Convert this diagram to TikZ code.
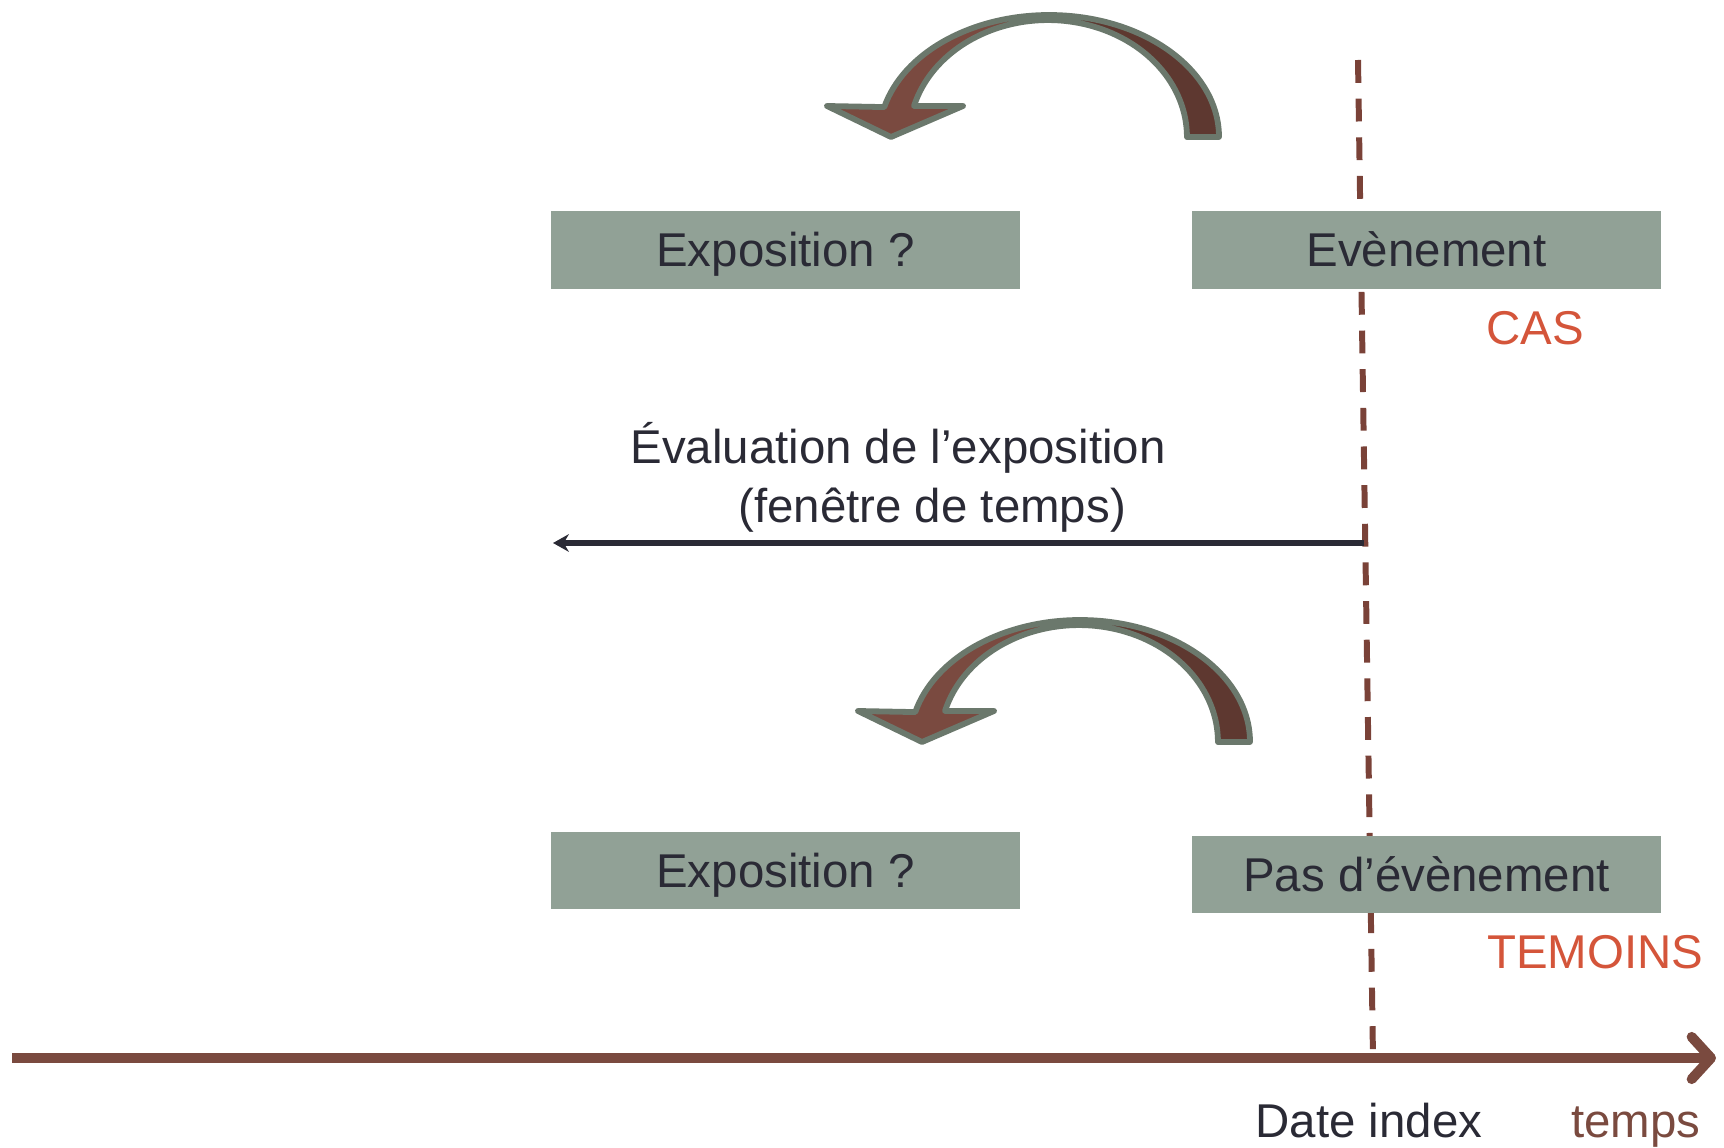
\documentclass[tikz,border=0pt]{standalone}
\usepackage{fontspec}
\setmainfont{Liberation Sans}
\usetikzlibrary{arrows.meta}
\definecolor{boxgreen}{HTML}{91A196}
\definecolor{textdark}{HTML}{2A2A35}
\definecolor{brownaxis}{HTML}{7A4A3F}
\definecolor{dashbrown}{HTML}{7A4238}
\definecolor{casred}{HTML}{D4553A}
\definecolor{bendlight}{HTML}{7A4A40}
\definecolor{benddark}{HTML}{5E3830}
\definecolor{bendedge}{HTML}{6B786C}
% outline of the curved arrow (top copy)
\newcommand\bendpath{(827,106) -- (891,137) -- (963,106) -- (914,106)
  arc[start angle=164.6,end angle=0,x radius=2.78cm,y radius=2.34cm]
  -- (1219,137)
  arc[start angle=0,end angle=165.8,x radius=3.4cm,y radius=2.44cm] -- cycle}
\begin{document}
\begin{tikzpicture}[x=0.02cm,y=-0.02cm,
  every node/.style={font=\fontsize{27}{32}\selectfont},
  greybox/.style={fill=boxgreen,text=textdark,minimum width=9.38cm,minimum height=1.56cm,
    inner sep=0pt,text height=19.3pt,text depth=0pt},
  grouplabel/.style={text=casred,anchor=base west,inner sep=0pt},
  evaltext/.style={text=textdark,anchor=base west,inner sep=0pt},
  axislabel/.style={anchor=base,inner sep=0pt}]
\useasboundingbox (0,0) rectangle (1724,1148);
\coordinate (datetop) at (1358,60);
\coordinate (dateindex) at (1373,1058);
\coordinate (evalstart) at (1364,543);
\coordinate (evalend) at (553,543);
\coordinate (origin) at (12,1058);
\coordinate (tend) at (1716,1058);
% date index
\draw[dashbrown,line width=3.4pt,dash pattern=on 13pt off 9pt](datetop)--(dateindex);
% curved arrows
\foreach \dx/\dy in {0/0,31/605}{
  \begin{scope}[shift={(\dx,\dy)}]
    \fill[bendlight] \bendpath;
    \begin{scope}
      \clip (1047,0) rectangle (1260,160);
      \fill[benddark] \bendpath;
    \end{scope}
    \draw[bendedge,line width=3.3pt,line join=round] \bendpath;
  \end{scope}
}
% boxes
\node[greybox] (expcas) at (785.5,250) {Exposition ?};
\node[greybox] (event) at (1426.5,250) {Evènement};
\node[greybox] (exptem) at (785.5,870.5) {Exposition ?};
\node[greybox] (noevent) at (1426.5,874.5) {Pas d’évènement};
\node[grouplabel] (cas) at (1486,345) {CAS};
\node[grouplabel] (temoins) at (1487,968) {TEMOINS};
% exposure window
\node[evaltext] (evalA) at (630,464) {Évaluation de l’exposition};
\node[evaltext] (evalB) at (738,522) {(fenêtre de temps)};
\draw[textdark,line width=3pt,-{Stealth[length=9pt,width=10pt]}](evalstart)--(evalend);
% time axis
\draw[brownaxis,line width=5.7pt,-{Straight Barb[length=11pt,width=24pt,round]}](origin)--(tend);
\node[axislabel,text=textdark] (dateidx) at (1369,1137) {Date index};
\node[axislabel,text=brownaxis] (temps) at (1636,1137) {temps};
\end{tikzpicture}
\end{document}
